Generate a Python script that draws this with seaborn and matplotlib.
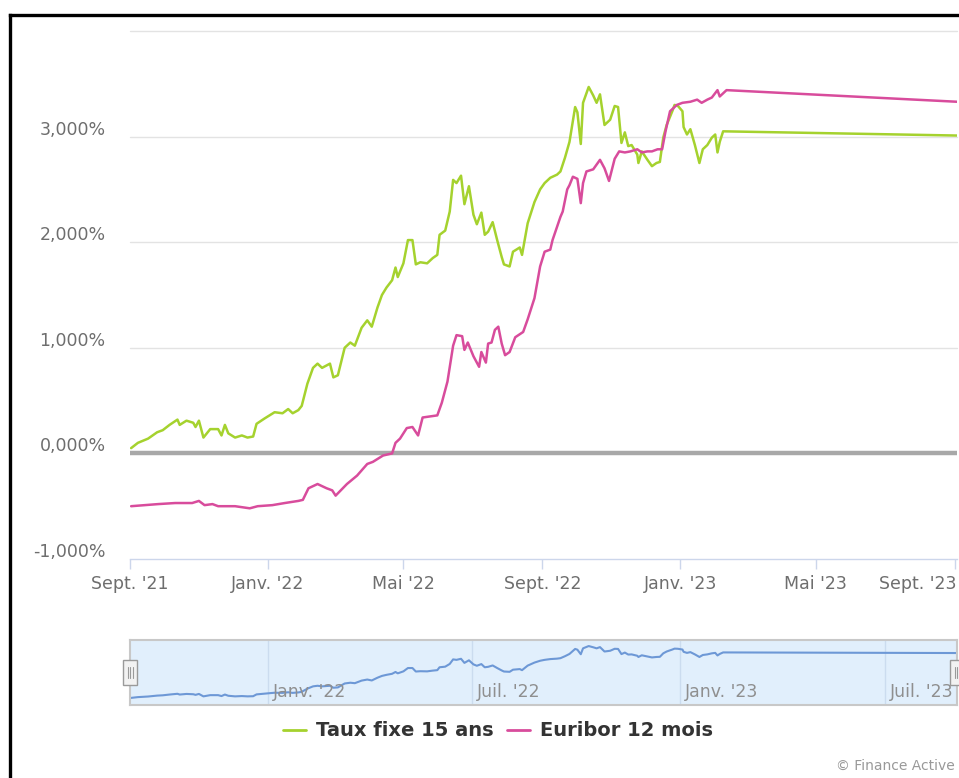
import matplotlib
matplotlib.use("Agg")
import matplotlib.pyplot as plt
import matplotlib.dates as mdates
import seaborn as sns
import pandas as pd
from matplotlib.transforms import ScaledTranslation
from matplotlib.lines import Line2D
from matplotlib.patches import Rectangle

# ---------------- data ----------------
taux_dates = [
    "2021-09-02", "2021-09-08", "2021-09-17", "2021-09-25", "2021-09-30", "2021-10-06",
    "2021-10-13", "2021-10-15", "2021-10-21", "2021-10-27", "2021-10-29", "2021-11-01",
    "2021-11-05", "2021-11-11", "2021-11-18", "2021-11-21", "2021-11-24", "2021-11-27",
    "2021-12-03", "2021-12-09", "2021-12-14", "2021-12-19", "2021-12-22", "2021-12-29",
    "2022-01-07", "2022-01-14", "2022-01-19", "2022-01-23", "2022-01-28", "2022-01-31",
    "2022-02-05", "2022-02-10", "2022-02-14", "2022-02-18", "2022-02-25", "2022-02-28",
    "2022-03-04", "2022-03-10", "2022-03-15", "2022-03-19", "2022-03-25", "2022-03-30",
    "2022-04-03", "2022-04-08", "2022-04-12", "2022-04-16", "2022-04-21", "2022-04-24",
    "2022-04-26", "2022-05-01", "2022-05-05", "2022-05-09", "2022-05-12", "2022-05-16",
    "2022-05-22", "2022-05-27", "2022-05-31", "2022-06-02", "2022-06-07", "2022-06-11",
    "2022-06-14", "2022-06-17", "2022-06-21", "2022-06-24", "2022-06-28", "2022-07-02",
    "2022-07-05", "2022-07-09", "2022-07-12", "2022-07-15", "2022-07-19", "2022-07-23",
    "2022-07-27", "2022-07-29", "2022-08-03", "2022-08-06", "2022-08-12", "2022-08-14",
    "2022-08-19", "2022-08-25", "2022-08-30", "2022-09-03", "2022-09-08", "2022-09-14",
    "2022-09-17", "2022-09-21", "2022-09-25", "2022-09-30", "2022-10-02", "2022-10-05",
    "2022-10-07", "2022-10-12", "2022-10-16", "2022-10-19", "2022-10-22", "2022-10-26",
    "2022-10-31", "2022-11-04", "2022-11-07", "2022-11-10", "2022-11-13", "2022-11-16",
    "2022-11-19", "2022-11-24", "2022-11-25", "2022-11-28", "2022-12-03", "2022-12-07",
    "2022-12-11", "2022-12-14", "2022-12-17", "2022-12-20", "2022-12-25", "2022-12-27",
    "2022-12-30", "2023-01-03", "2023-01-04", "2023-01-07", "2023-01-10", "2023-01-14",
    "2023-01-18", "2023-01-21", "2023-01-25", "2023-01-29", "2023-02-01", "2023-02-03",
    "2023-02-05", "2023-02-08", "2023-09-03",
]
taux_values = [
    0.05, 0.10, 0.14, 0.20, 0.22, 0.27,
    0.32, 0.27, 0.31, 0.29, 0.25, 0.31,
    0.15, 0.23, 0.23, 0.17, 0.27, 0.19,
    0.15, 0.17, 0.15, 0.16, 0.28, 0.33,
    0.39, 0.38, 0.42, 0.38, 0.41, 0.45,
    0.66, 0.81, 0.85, 0.81, 0.85, 0.72,
    0.74, 1.00, 1.05, 1.02, 1.19, 1.26,
    1.20, 1.38, 1.50, 1.57, 1.64, 1.76,
    1.67, 1.80, 2.02, 2.02, 1.79, 1.81,
    1.80, 1.85, 1.88, 2.07, 2.11, 2.29,
    2.59, 2.56, 2.63, 2.36, 2.53, 2.26,
    2.17, 2.28, 2.07, 2.10, 2.19, 2.02,
    1.86, 1.79, 1.77, 1.91, 1.95, 1.88,
    2.18, 2.38, 2.50, 2.56, 2.61, 2.64,
    2.67, 2.80, 2.95, 3.28, 3.23, 2.93,
    3.32, 3.47, 3.39, 3.32, 3.40, 3.11,
    3.16, 3.29, 3.28, 2.94, 3.04, 2.91,
    2.92, 2.83, 2.75, 2.86, 2.78, 2.72,
    2.75, 2.76, 2.99, 3.11, 3.24, 3.30,
    3.29, 3.24, 3.09, 3.02, 3.07, 2.92,
    2.75, 2.88, 2.92, 2.99, 3.02, 2.85,
    2.95, 3.05, 3.01,
]

euribor_dates = [
    "2021-09-02", "2021-09-14", "2021-09-26", "2021-10-11", "2021-10-26", "2021-11-01",
    "2021-11-06", "2021-11-13", "2021-11-18", "2021-12-03", "2021-12-16", "2021-12-23",
    "2022-01-05", "2022-01-16", "2022-01-28", "2022-02-01", "2022-02-06", "2022-02-14",
    "2022-02-22", "2022-02-27", "2022-03-02", "2022-03-12", "2022-03-21", "2022-03-30",
    "2022-04-04", "2022-04-13", "2022-04-21", "2022-04-24", "2022-04-28", "2022-05-04",
    "2022-05-09", "2022-05-14", "2022-05-18", "2022-05-31", "2022-06-04", "2022-06-09",
    "2022-06-14", "2022-06-17", "2022-06-22", "2022-06-24", "2022-06-27", "2022-07-02",
    "2022-07-07", "2022-07-09", "2022-07-13", "2022-07-15", "2022-07-18", "2022-07-21",
    "2022-07-24", "2022-07-27", "2022-07-30", "2022-08-03", "2022-08-08", "2022-08-15",
    "2022-08-19", "2022-08-25", "2022-08-30", "2022-09-03", "2022-09-08", "2022-09-10",
    "2022-09-17", "2022-09-19", "2022-09-23", "2022-09-25", "2022-09-28", "2022-10-02",
    "2022-10-05", "2022-10-07", "2022-10-10", "2022-10-16", "2022-10-22", "2022-10-26",
    "2022-10-30", "2022-11-04", "2022-11-08", "2022-11-13", "2022-11-18", "2022-11-24",
    "2022-11-28", "2022-12-03", "2022-12-07", "2022-12-12", "2022-12-16", "2022-12-19",
    "2022-12-23", "2022-12-29", "2023-01-03", "2023-01-10", "2023-01-16", "2023-01-20",
    "2023-01-25", "2023-01-29", "2023-02-03", "2023-02-05", "2023-02-11", "2023-09-03",
]
euribor_values = [
    -0.50, -0.49, -0.48, -0.47, -0.47, -0.45,
    -0.49, -0.48, -0.50, -0.50, -0.52, -0.50,
    -0.49, -0.47, -0.45, -0.44, -0.33, -0.29,
    -0.33, -0.35, -0.40, -0.29, -0.21, -0.10,
    -0.08, -0.02, 0.00, 0.10, 0.14, 0.24,
    0.25, 0.17, 0.34, 0.36, 0.48, 0.68,
    1.02, 1.12, 1.11, 0.98, 1.05, 0.92,
    0.82, 0.96, 0.86, 1.04, 1.05, 1.17,
    1.20, 1.04, 0.93, 0.96, 1.10, 1.15,
    1.27, 1.47, 1.77, 1.91, 1.93, 2.02,
    2.24, 2.29, 2.50, 2.54, 2.62, 2.60,
    2.37, 2.56, 2.67, 2.69, 2.78, 2.70,
    2.58, 2.79, 2.86, 2.85, 2.86, 2.88,
    2.85, 2.86, 2.86, 2.88, 2.88, 3.05,
    3.24, 3.30, 3.32, 3.33, 3.35, 3.32,
    3.35, 3.37, 3.44, 3.38, 3.44, 3.33,
]

series_names = ["Taux fixe 15 ans", "Euribor 12 mois"]
series_colors = ["#a5d22e", "#d84c9c"]

y_ticks = [-1, 0, 1, 2, 3]
y_tick_labels = ["-1,000%", "0,000%", "1,000%", "2,000%", "3,000%"]
grid_levels = [1, 2, 3, 4]

x_tick_dates = ["2021-09-01", "2022-01-01", "2022-05-01", "2022-09-01",
                "2023-01-01", "2023-05-01", "2023-09-01"]
x_tick_labels = ["Sept. '21", "Janv. '22", "Mai '22", "Sept. '22",
                 "Janv. '23", "Mai '23", "Sept. '23"]
nav_tick_dates = ["2022-01-01", "2022-07-01", "2023-01-01", "2023-07-01"]
nav_tick_labels = ["Janv. '22", "Juil. '22", "Janv. '23", "Juil. '23"]
x_range = ["2021-09-01", "2023-09-03"]

# ---------------- build frame ----------------
df = pd.concat([
    pd.DataFrame({"date": pd.to_datetime(taux_dates), "value": taux_values,
                  "series": series_names[0]}),
    pd.DataFrame({"date": pd.to_datetime(euribor_dates), "value": euribor_values,
                  "series": series_names[1]}),
], ignore_index=True)

# ---------------- figure ----------------
W, H = 959, 778
sns.set_theme(style="white")
plt.rcParams["font.family"] = ["DejaVu Sans"]

fig = plt.figure(figsize=(W / 100, H / 100), dpi=100)
fig.patch.set_facecolor("white")


def fx(x):
    return x / W


def fy(y):
    return 1 - y / H


ax = fig.add_axes([fx(130), fy(559), fx(957) - fx(130), fy(31) - fy(559)])
ax.set_facecolor("white")

for lvl in grid_levels:
    ax.axhline(lvl, color="#e3e3e3", lw=1.0, zorder=0, clip_on=False)
ax.axhline(0, color="#a8a8a8", lw=3.2, zorder=1)

sns.lineplot(data=df, x="date", y="value", hue="series", hue_order=series_names,
             palette=series_colors, estimator=None, sort=True, linewidth=1.8,
             legend=False, ax=ax, zorder=3)

ax.set_xlim(pd.to_datetime(x_range[0]), pd.to_datetime(x_range[1]))
ax.set_ylim(-1, 4)
ax.set_xlabel("")
ax.set_ylabel("")

for s in ["top", "right", "left"]:
    ax.spines[s].set_visible(False)
ax.spines["bottom"].set_color("#ccd6eb")
ax.spines["bottom"].set_linewidth(1.0)

ax.set_xticks(pd.to_datetime(x_tick_dates))
ax.set_xticklabels(x_tick_labels)
ax.tick_params(axis="x", length=7.5, width=1.0, color="#ccd6eb", direction="out",
               labelsize=12.5, labelcolor="#6e6e6e", pad=4, bottom=True)
# keep the last label inside the chart, as in the original
last = ax.get_xticklabels()[-1]
last.set_horizontalalignment("right")
last.set_transform(last.get_transform() + ScaledTranslation(2 / 100, 0, fig.dpi_scale_trans))

ax.set_yticks(y_ticks)
ax.set_yticklabels(y_tick_labels)
ax.tick_params(axis="y", length=0, pad=17.5, labelsize=12.5, labelcolor="#6e6e6e", left=True)
offset = ScaledTranslation(0, 9 / 100, fig.dpi_scale_trans)
for lab in ax.get_yticklabels():
    lab.set_transform(lab.get_transform() + offset)

# ---------------- navigator ----------------
nav = fig.add_axes([fx(130), fy(705), fx(957) - fx(130), fy(640) - fy(705)])
nav.set_facecolor("#e1effc")
for s in nav.spines.values():
    s.set_color("#c8c8c8")
    s.set_linewidth(1.5)
for d in nav_tick_dates:
    nav.axvline(pd.to_datetime(d), color="#cbdcef", lw=1.0, zorder=0)
sns.lineplot(data=df[df["series"] == series_names[0]], x="date", y="value",
             color="#6d98d6", linewidth=1.5, estimator=None, legend=False, ax=nav, zorder=2)
nav.set_xlim(pd.to_datetime(x_range[0]), pd.to_datetime(x_range[1]))
nav.set_ylim(-0.42, 3.87)
nav.set_xticks([])
nav.set_yticks([])
nav.set_xlabel("")
nav.set_ylabel("")
nav_off = ScaledTranslation(5 / 100, 0, fig.dpi_scale_trans)
for d, lab in zip(nav_tick_dates, nav_tick_labels):
    nav.text(pd.to_datetime(d), 0.2, lab, transform=nav.get_xaxis_transform() + nav_off,
             ha="left", va="center", fontsize=12.5, color="#8f8f8f", zorder=3, clip_on=False)

# handles
for cx in (130, 957):
    fig.add_artist(Rectangle((fx(cx - 7), fy(685)), fx(14), 25 / H, facecolor="#f2f2f2",
                             edgecolor="#9a9a9a", lw=1.0, transform=fig.transFigure,
                             zorder=10))
    for dx in (-2.5, 0, 2.5):
        fig.add_artist(Line2D([fx(cx + dx)] * 2, [fy(678), fy(667)], color="#9a9a9a",
                              lw=0.8, transform=fig.transFigure, zorder=11))

# ---------------- legend ----------------
handles = [Line2D([], [], color=c, lw=2) for c in series_colors]
leg = fig.legend(handles, series_names, loc="center", bbox_to_anchor=(fx(498), fy(731)),
                 ncol=2, frameon=False, prop={"weight": "bold", "size": 14},
                 handlelength=1.2, handletextpad=0.5, columnspacing=0.7)
for t in leg.get_texts():
    t.set_color("#333333")

fig.text(fx(955), fy(766), "© Finance Active", ha="right", va="center",
         fontsize=10, color="#999999")

# ---------------- outer frame ----------------
fig.add_artist(Line2D([fx(10), fx(10)], [0, fy(14.5)], color="black", lw=2.4,
                      transform=fig.transFigure, solid_capstyle="projecting"))
fig.add_artist(Line2D([fx(10), 1], [fy(14.5), fy(14.5)], color="black", lw=2.4,
                      transform=fig.transFigure, solid_capstyle="projecting"))

fig.savefig("out.png", dpi=100)
